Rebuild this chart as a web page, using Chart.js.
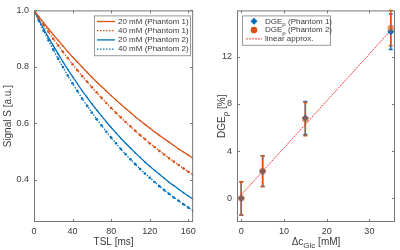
<!DOCTYPE html>
<html lang="en">
<head>
  <meta charset="UTF-8">
  <title>Spin-lock signal and DGE</title>
  <script src="https://cdn.jsdelivr.net/npm/chart.js"></script>
  <style>
    body { margin: 0; background: #fff; }
    .wrap { position: relative; width: 400px; height: 250px; }
    canvas { position: absolute; top: 0; }
  </style>
</head>
<body>
  <div class="wrap">
    <canvas id="left" width="200" height="250" style="left:0"></canvas>
    <canvas id="right" width="200" height="250" style="left:200px"></canvas>
  </div>

  <script>
    // left panel: signal decay vs spin-lock time
    const tsl = [0,5,10,15,20,25,30,35,40,45,50,55,60,65,70,75,80,85,90,95,100,105,110,115,120,125,130,135,140,145,150,155,160,165];
    const s20p1 = [1,0.978,0.956,0.935,0.914,0.894,0.874,0.854,0.835,0.817,0.799,0.781,0.763,0.746,0.730,0.714,0.698,0.682,0.667,0.652,0.638,0.623,0.610,0.596,0.583,0.570,0.557,0.545,0.533,0.521,0.509,0.498,0.487,0.476];
    const s40p1 = [1,0.974,0.948,0.924,0.899,0.876,0.853,0.831,0.809,0.788,0.767,0.747,0.728,0.709,0.690,0.672,0.654,0.637,0.621,0.604,0.589,0.573,0.558,0.544,0.529,0.516,0.502,0.489,0.476,0.464,0.452,0.440,0.428,0.417];
    const s20p2 = [1,0.967,0.935,0.904,0.875,0.846,0.818,0.791,0.765,0.740,0.715,0.692,0.669,0.647,0.626,0.605,0.585,0.566,0.547,0.529,0.512,0.495,0.479,0.463,0.448,0.433,0.419,0.405,0.391,0.379,0.366,0.354,0.342,0.331];
    const s40p2 = [1,0.963,0.928,0.894,0.861,0.829,0.799,0.769,0.741,0.714,0.687,0.662,0.638,0.614,0.592,0.570,0.549,0.529,0.509,0.490,0.472,0.455,0.438,0.422,0.407,0.392,0.377,0.363,0.350,0.337,0.325,0.313,0.301,0.290];
    const leftXTicks = [0, 40, 80, 120, 160];
    const leftYTicks = [0.4, 0.6, 0.8, 1];

    // right panel: DGE vs glucose concentration
    const dc = [0, 5, 15, 35];
    const dgeP1 = [0, 2.3, 6.8, 14.1];
    const errP1 = [1.4, 1.3, 1.4, 1.5];
    const dgeP2 = [0, 2.3, 6.7, 14.4];
    const errP2 = [1.4, 1.3, 1.4, 1.5];
    const linX = [0, 35];
    const linY = [0.3, 14.2];
    const rightXTicks = [0, 10, 20, 30];
    const rightYTicks = [0, 4, 8, 12];

    const ORANGE = '#D95319';
    const BLUE = '#0072BD';
    const FONT = '"Liberation Sans", Arial, sans-serif';

    Chart.defaults.font.family = FONT;
    Chart.defaults.font.size = 9;
    Chart.defaults.color = '#3a3a3a';

    const pts = (xs, ys) => xs.map((x, i) => ({ x: x, y: ys[i] }));

    // text with _{subscript} parts
    function drawRich(ctx, str, x, y, size, align) {
      const parts = [];
      const re = /_\{([^}]*)\}/g;
      let last = 0, m;
      while ((m = re.exec(str))) {
        if (m.index > last) parts.push([str.slice(last, m.index), false]);
        parts.push([m[1], true]);
        last = re.lastIndex;
      }
      if (last < str.length) parts.push([str.slice(last), false]);
      const sub = Math.round(size * 0.75);
      let w = 0;
      parts.forEach(p => {
        ctx.font = (p[1] ? sub : size) + 'px ' + FONT;
        p.push(ctx.measureText(p[0]).width);
        w += p[2];
      });
      let cx = align === 'center' ? x - w / 2 : x;
      ctx.textAlign = 'left';
      ctx.textBaseline = 'middle';
      parts.forEach(p => {
        ctx.font = (p[1] ? sub : size) + 'px ' + FONT;
        ctx.fillText(p[0], cx, p[1] ? y + size * 0.35 : y);
        cx += p[2];
      });
    }

    // box around the plot, inward ticks, axis titles
    const frame = {
      id: 'frame',
      afterDraw(chart, args, o) {
        const { ctx, chartArea: a, scales } = chart;
        ctx.save();
        ctx.strokeStyle = '#777';
        ctx.lineWidth = 1;
        ctx.setLineDash([]);
        ctx.strokeRect(a.left + 0.5, a.top + 0.5, a.width - 1, a.height - 1);
        const tl = 3;
        ctx.beginPath();
        scales.x.ticks.forEach(t => {
          const px = Math.round(scales.x.getPixelForValue(t.value)) + 0.5;
          ctx.moveTo(px, a.bottom); ctx.lineTo(px, a.bottom - tl);
          ctx.moveTo(px, a.top); ctx.lineTo(px, a.top + tl);
        });
        scales.y.ticks.forEach(t => {
          const py = Math.round(scales.y.getPixelForValue(t.value)) + 0.5;
          ctx.moveTo(a.left, py); ctx.lineTo(a.left + tl, py);
          ctx.moveTo(a.right, py); ctx.lineTo(a.right - tl, py);
        });
        ctx.stroke();
        ctx.fillStyle = '#3a3a3a';
        drawRich(ctx, o.xTitle, (a.left + a.right) / 2, o.xTitleY, 10, 'center');
        ctx.translate(o.yTitleX, (a.top + a.bottom) / 2);
        ctx.rotate(-Math.PI / 2);
        drawRich(ctx, o.yTitle, 0, 0, 10, 'center');
        ctx.restore();
      }
    };

    // vertical error bars for datasets that carry yErr
    const errorBars = {
      id: 'errorBars',
      beforeDatasetsDraw(chart) {
        const { ctx, scales } = chart;
        ctx.save();
        chart.data.datasets.forEach(ds => {
          if (!ds.yErr) return;
          ctx.strokeStyle = ds.errColor;
          ctx.lineWidth = 1.5;
          ctx.beginPath();
          ds.data.forEach((p, i) => {
            const px = scales.x.getPixelForValue(p.x);
            const top = scales.y.getPixelForValue(p.y + ds.yErr[i]);
            const bot = scales.y.getPixelForValue(p.y - ds.yErr[i]);
            ctx.moveTo(px, top); ctx.lineTo(px, bot);
            ctx.moveTo(px - 2, top); ctx.lineTo(px + 2, top);
            ctx.moveTo(px - 2, bot); ctx.lineTo(px + 2, bot);
          });
          ctx.stroke();
        });
        ctx.restore();
      }
    };

    // boxed legend inside the axes
    const boxLegend = {
      id: 'boxLegend',
      afterDraw(chart, args, o) {
        const { ctx, chartArea: a } = chart;
        const items = chart.data.datasets;
        const x0 = a.left + o.dx, y0 = a.top + o.dy;
        const h = items.length * o.rowH + 3;
        ctx.save();
        ctx.fillStyle = '#fff';
        ctx.fillRect(x0, y0, o.w, h);
        ctx.strokeStyle = '#999';
        ctx.lineWidth = 1;
        ctx.strokeRect(x0 + 0.5, y0 + 0.5, o.w, h);
        items.forEach((ds, i) => {
          const y = y0 + 1.5 + o.rowH * (i + 0.5);
          if (ds.showLine === false) {
            ctx.fillStyle = ds.legendColor || ds.backgroundColor;
            Chart.helpers.drawPoint(ctx, { pointStyle: ds.pointStyle, rotation: 0, radius: ds.pointRadius, borderWidth: 0 }, x0 + o.mark, y);
          } else {
            ctx.strokeStyle = ds.borderColor;
            ctx.lineWidth = ds.borderWidth;
            ctx.setLineDash(ds.borderDash || []);
            ctx.beginPath();
            ctx.moveTo(x0 + o.lineFrom, y);
            ctx.lineTo(x0 + o.lineTo, y);
            ctx.stroke();
            ctx.setLineDash([]);
          }
          ctx.fillStyle = '#3a3a3a';
          drawRich(ctx, ds.label, x0 + o.textX, y, 8, 'left');
        });
        ctx.restore();
      }
    };

    function linScale(min, max, ticks, size, isY) {
      return {
        type: 'linear', min: min, max: max,
        grid: { display: false, drawTicks: false },
        border: { display: false },
        ticks: { padding: isY ? 5 : 4, autoSkip: false },
        afterBuildTicks: s => { s.ticks = ticks.map(v => ({ value: v })); },
        afterFit: s => { if (isY) s.width = size; else s.height = size; }
      };
    }

    const decay = (label, ys, color, dotted) => ({
      label: label,
      data: pts(tsl, ys),
      borderColor: color,
      backgroundColor: color,
      borderWidth: 1.3,
      borderDash: dotted ? [1.5, 1.5] : [],
      pointRadius: dotted ? 1.3 : 0.8,
      pointBorderWidth: 0,
      pointBackgroundColor: color,
      tension: 0
    });

    new Chart(document.getElementById('left'), {
      type: 'line',
      data: {
        datasets: [
          decay('20 mM (Phantom 1)', s20p1, ORANGE, false),
          decay('40 mM (Phantom 1)', s40p1, ORANGE, true),
          decay('20 mM (Phantom 2)', s20p2, BLUE, false),
          decay('40 mM (Phantom 2)', s40p2, BLUE, true)
        ]
      },
      options: {
        responsive: false,
        animation: false,
        layout: { padding: { top: 7, right: 6, left: 0, bottom: 0 } },
        scales: {
          x: linScale(0, 165, leftXTicks, 28, false),
          y: linScale(0.25, 1, leftYTicks, 34, true)
        },
        plugins: {
          legend: { display: false },
          tooltip: { enabled: false },
          frame: { xTitle: 'TSL [ms]', xTitleY: 242, yTitle: 'Signal S [a.u.]', yTitleX: 8 },
          boxLegend: { dx: 60, dy: 5, w: 96, rowH: 9.2, lineFrom: 3, lineTo: 21, mark: 12, textX: 24 }
        }
      },
      plugins: [frame, boxLegend]
    });

    new Chart(document.getElementById('right'), {
      type: 'scatter',
      data: {
        datasets: [
          {
            label: 'DGE_{ρ} (Phantom 1)',
            data: pts(dc, dgeP1),
            yErr: errP1, errColor: BLUE,
            showLine: false, order: 2,
            pointStyle: 'rectRot', pointRadius: 3.5, pointBorderWidth: 0,
            backgroundColor: BLUE, borderColor: BLUE
          },
          {
            label: 'DGE_{ρ} (Phantom 2)',
            data: pts(dc, dgeP2),
            yErr: errP2, errColor: ORANGE,
            showLine: false, order: 1,
            pointStyle: 'circle', pointRadius: 3.3, pointBorderWidth: 0,
            backgroundColor: 'rgba(217,83,25,0.6)', borderColor: ORANGE,
            legendColor: ORANGE
          },
          {
            label: 'linear approx.',
            data: pts(linX, linY),
            showLine: true, order: 3,
            borderColor: 'rgba(255,20,20,0.85)', borderWidth: 1,
            borderDash: [2, 1],
            pointRadius: 0
          }
        ]
      },
      options: {
        responsive: false,
        animation: false,
        layout: { padding: { top: 6, right: 5, left: 0, bottom: 0 } },
        scales: {
          x: linScale(-1, 36, rightXTicks, 28, false),
          y: linScale(-2, 15.9, rightYTicks, 37, true)
        },
        plugins: {
          legend: { display: false },
          tooltip: { enabled: false },
          frame: { xTitle: 'Δc_{Glc} [mM]', xTitleY: 242, yTitle: 'DGE_{ρ} [%]', yTitleX: 22 },
          boxLegend: { dx: 5, dy: 5, w: 88, rowH: 8.8, lineFrom: 4, lineTo: 20, mark: 12, textX: 23 }
        }
      },
      plugins: [frame, errorBars, boxLegend]
    });
  </script>
</body>
</html>
